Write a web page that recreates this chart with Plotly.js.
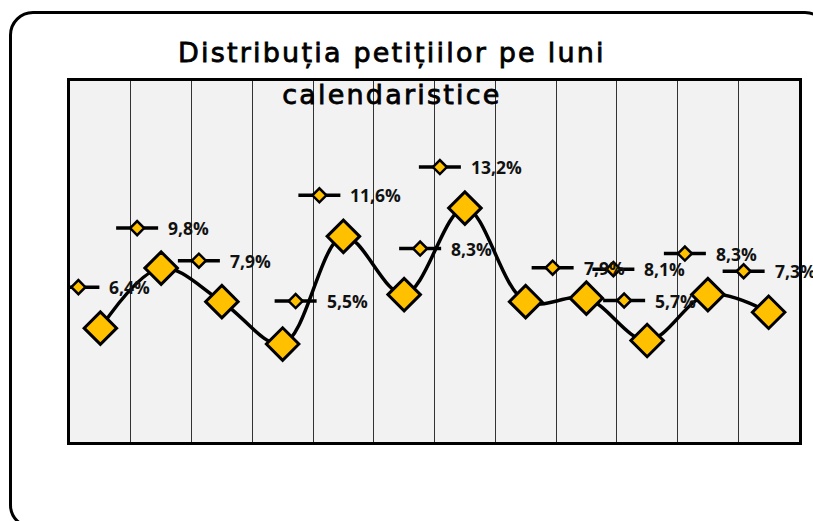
<!DOCTYPE html>
<html><head><meta charset="utf-8">
<script src="https://cdn.plot.ly/plotly-3.0.1.min.js"></script>
<style>
html,body{margin:0;padding:0;background:#fff;overflow:hidden}
#chart{width:813px;height:521px;position:absolute;left:0;top:0}
#frame{position:absolute;left:9px;top:11px;width:820px;height:518px;border:3.5px solid #000;border-radius:24px;pointer-events:none;box-sizing:border-box}
.gtitle{letter-spacing:2.2px;stroke:#000;stroke-width:0.8px}
</style></head><body>
<div id="chart"></div><div id="frame"></div>
<script>
// Data
const months = ['Ianuarie','Februarie','Martie','Aprilie','Mai','Iunie','Iulie','August','Septembrie','Octombrie','Noiembrie','Decembrie'];
const values = [6.4, 9.8, 7.9, 5.5, 11.6, 8.3, 13.2, 7.9, 8.1, 5.7, 8.3, 7.3];
const labels = values.map(v => v.toFixed(1).replace('.', ',') + '%');
const titleLines = ['Distribuția petițiilor pe luni', 'calendaristice'];
// Label placement (pixel offsets of the label key from each point)
const labelDx = [-22, -24, -23, 13, -24, 16, -25, 27, 27, -23, -23, -25];
const labelDy = [41, 40, 41, 43, 41, 46, 41, 34, 29, 40, 41, 41];

const gold = '#FFC000';
const labelFont = 'Open Sans, DejaVu Sans, sans-serif';

const trace = {
  type: 'scatter', mode: 'lines+markers',
  x: months, y: values,
  line: {color: '#000', width: 3.5, shape: 'spline', smoothing: 1},
  marker: {symbol: 'diamond', size: 25, color: gold, line: {color: '#000', width: 3}},
  hoverinfo: 'x+y', showlegend: false
};

const shapes = [];
const annotations = [];
months.forEach((m, i) => {
  const dx = labelDx[i], dy = labelDy[i];
  shapes.push({type: 'line', xref: 'x', yref: 'y', xsizemode: 'pixel', ysizemode: 'pixel',
    xanchor: m, yanchor: values[i], x0: dx - 21, x1: dx + 21, y0: dy, y1: dy,
    line: {color: '#000', width: 3.5}});
  shapes.push({type: 'path', xref: 'x', yref: 'y', xsizemode: 'pixel', ysizemode: 'pixel',
    xanchor: m, yanchor: values[i],
    path: `M${dx-7},${dy} L${dx},${dy+7} L${dx+7},${dy} L${dx},${dy-7} Z`,
    fillcolor: gold, line: {color: '#000', width: 2.5}});
  annotations.push({xref: 'x', yref: 'y', x: m, y: values[i], text: labels[i], showarrow: false,
    xanchor: 'left', yanchor: 'middle', xshift: dx + 29, yshift: dy,
    font: {family: labelFont, size: 17.5, color: '#111', weight: 700}});
});

const layout = {
  width: 813, height: 521,
  margin: {l: 70, r: 14, t: 81, b: 79},
  paper_bgcolor: 'rgba(0,0,0,0)', plot_bgcolor: '#F2F2F2',
  title: {text: titleLines.map(t => '<span style="font-size:27px">' + t + '</span>').join('<br>'),
    x: 0.482, xref: 'container', xanchor: 'center',
    y: 0.881, yref: 'container', yanchor: 'middle',
    font: {family: 'DejaVu Sans, sans-serif', size: 32, color: '#000'}},
  xaxis: {type: 'category', tickson: 'boundaries', range: [-0.5, 11.5], showgrid: true,
    gridcolor: '#333', gridwidth: 1, showticklabels: false, ticks: '',
    showline: true, mirror: true, linecolor: '#000', linewidth: 3, zeroline: false, fixedrange: true},
  yaxis: {range: [-0.05, 20.4], showgrid: false, showticklabels: false, ticks: '', zeroline: false,
    showline: true, mirror: true, linecolor: '#000', linewidth: 3, fixedrange: true},
  shapes: shapes, annotations: annotations
};

Plotly.newPlot('chart', [trace], layout, {displayModeBar: false, staticPlot: true});
</script>
</body></html>
